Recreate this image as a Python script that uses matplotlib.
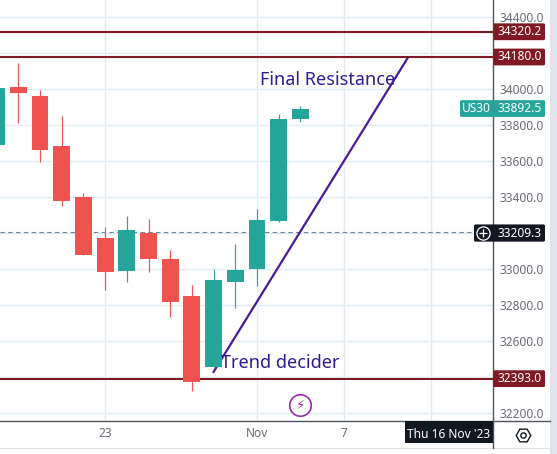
import matplotlib
matplotlib.use("Agg")
import matplotlib.pyplot as plt
from matplotlib.lines import Line2D
from matplotlib.patches import FancyBboxPatch, Rectangle

W, H = 557, 454
FONT = "Noto Sans"
plt.rcParams["font.family"] = FONT

# ---- data ----
idx    = list(range(15))
opens  = [33691, 34013, 33963, 33686, 33402, 33174, 32991, 33202, 33058, 32852, 32458, 32930, 33002, 33269, 33836]
closes = [34008, 33980, 33663, 33380, 33080, 32986, 33219, 33058, 32819, 32374, 32941, 32997, 33274, 33836, 33892.5]
highs  = [34008, 34147, 33997, 33852, 33424, 33236, 33297, 33280, 33108, 32913, 33002, 33141, 33336, 33863, 33908]
lows   = [33691, 33813, 33597, 33352, 33080, 32886, 32930, 32986, 32736, 32324, 32458, 32786, 32908, 33263, 33819]

y_ticks = [32200, 32400, 32600, 32800, 33000, 33200, 33400, 33600, 33800, 34000, 34200, 34400]
y_labels = [32200, None, 32600, 32800, 33000, None, 33400, 33600, 33800, 34000, None, 34400]
x_grid = [5, 12, 16, 20]
x_tick_pos = [0, 5, 12, 16]
x_tick_labels = ["16", "23", "Nov", "7"]

levels = [34320.2, 34180.0, 32393.0]
last_price = 33892.5
cross_price = 33209.3
symbol = "US30"
cross_date = "Thu 16 Nov '23"
trend_x = [9.97, 18.97]
trend_y = [32425, 34180]
note_top = "Final Resistance"
note_bottom = "Trend decider"
event_x, event_y = 14, 32245

UP, DOWN = "#26a69a", "#ef5350"
LEVEL = "#801922"
TREND = "#4a1a9a"
NOTE = "#311b92"
GRID = "#e0ecf2"
AXIS = "#50535e"
DARK = "#131722"
TICK = "#6a6d78"
BAND = "#e0e3eb"

fig = plt.figure(figsize=(W / 100, H / 100), dpi=100, facecolor="white")
ax_r, ax_b = 493.3, 420.7
ax = fig.add_axes([0, 1 - ax_b / H, ax_r / W, ax_b / H])
ax.set_xlim(3.4 / 21.7, (ax_r + 3.4) / 21.7)
ax.set_ylim(34400 - (ax_b - 17.4) / 0.18, 34400 + 17.4 / 0.18)
for s in ax.spines.values():
    s.set_visible(False)

for y in y_ticks:
    ax.axhline(y, color=GRID, lw=1.0, zorder=0)
for x in x_grid:
    ax.axvline(x, color=GRID, lw=1.0, zorder=0)

ax.yaxis.tick_right()
ax.set_yticks(y_ticks)
ax.set_yticklabels([f"{v:.1f}" if v else "" for v in y_labels], color=TICK, fontsize=8.6)
ax.set_xticks(x_tick_pos)
ax.set_xticklabels(x_tick_labels, color=TICK, fontsize=8.6)
ax.set_xlim(3.4 / 21.7, (ax_r + 3.4) / 21.7)
ax.tick_params(axis="y", length=0, pad=4.5)
ax.tick_params(axis="x", length=0, pad=4.5)
for t in ax.get_xticklabels():
    t.set_clip_on(False)

ax.axhline(cross_price, color="#758696", lw=0.8, dashes=(4, 3), zorder=1)
for lv in levels:
    ax.axhline(lv, color=LEVEL, lw=1.5, zorder=1.5)
ax.plot(trend_x, trend_y, color=TREND, lw=1.6, zorder=2, solid_capstyle="butt")

for i, o, c, h, l in zip(idx, opens, closes, highs, lows):
    col = UP if c >= o else DOWN
    ax.vlines(i, l, h, color=col, lw=0.85, zorder=3)
    ax.bar(i, abs(c - o), bottom=min(o, c), width=0.78, color=col, lw=0, zorder=3.5)

ax.text(260 / 21.7 + 3.4 / 21.7, 34025, note_top, color=NOTE, fontsize=13, fontweight="medium",
        va="baseline", ha="left", zorder=5)
ax.text(221 / 21.7 + 3.4 / 21.7, 32452, note_bottom, color=NOTE, fontsize=13, fontweight="medium",
        va="baseline", ha="left", zorder=5)

ax.plot([event_x], [event_y], "o", ms=15.5, mfc="white", mec="#9c27b0", mew=1.2, zorder=5, clip_on=False)
ax.text(event_x, event_y, "\u26a1", family="DejaVu Sans", color="#9c27b0", fontsize=9.5,
        ha="center", va="center", zorder=6)


def px(x, y):
    return x / W, 1 - y / H


def price_y(price):
    return H - ax.transData.transform((0, price))[1]


def box(x0, x1, y0, y1, color):
    (fx0, fy1), (fx1, fy0) = px(x0, y0), px(x1, y1)
    fig.add_artist(FancyBboxPatch((x0, H - y1), x1 - x0, y1 - y0,
                                  boxstyle="round,pad=0,rounding_size=1.5",
                                  fc=color, ec="none", transform=None, zorder=10))


def label(x, y, s, color="white", **kw):
    fx, fy = px(x, y)
    fig.text(fx, fy, s, color=color, fontsize=8.6, ha="center", va="center", zorder=11, **kw)


# frame chrome
fig.add_artist(Rectangle((550 / W, 0), 7 / W, 1, transform=fig.transFigure, fc=BAND, ec="none", zorder=1))
fig.add_artist(Rectangle((0, 1 - 449 / H), 550 / W, 1.5 / H, transform=fig.transFigure, fc=BAND, ec="none", zorder=1))
fig.add_artist(Line2D([ax_r / W, ax_r / W], [1, 1 - 448 / H], color=AXIS, lw=1.0, zorder=9))
fig.add_artist(Line2D([0, 550 / W], [1 - ax_b / H, 1 - ax_b / H], color=AXIS, lw=1.0, zorder=9))

for lv in levels:
    yc = price_y(lv)
    box(ax_r, 545, yc - 8.4, yc + 8.4, LEVEL)
    label(520, yc, f"{lv:.1f}")

yc = price_y(last_price) - 0.2
box(460, 545, yc - 8.4, yc + 8.4, UP)
label(476, yc, symbol)
label(520, yc, f"{last_price:.1f}")

yc = price_y(cross_price) + 1.3
box(474, 545, yc - 8.6, yc + 8.6, DARK)
label(520, yc, f"{cross_price:.1f}")
fx, fy = px(483.3, yc)
fig.add_artist(Line2D([fx], [fy], marker="o", ms=9.5, mfc="none", mec="white", mew=0.9, zorder=11))
fig.add_artist(Line2D([fx], [fy], marker="+", ms=5.5, color="white", mew=0.9, zorder=11))

fig.add_artist(Rectangle((405 / W, 1 - 443 / H), 88 / W, 22.3 / H, transform=fig.transFigure, fc=DARK, ec="none", zorder=10))
label(449, 434, cross_date)

fx, fy = px(522.7, 434.7)
fig.add_artist(Line2D([fx], [fy], marker="H", ms=10.5, mfc="none", mec="#131722", mew=1.0, zorder=11))
fig.add_artist(Line2D([fx], [fy], marker="o", ms=3.8, mfc="none", mec="#131722", mew=1.0, zorder=11))

fig.savefig("out.png", dpi=100)
